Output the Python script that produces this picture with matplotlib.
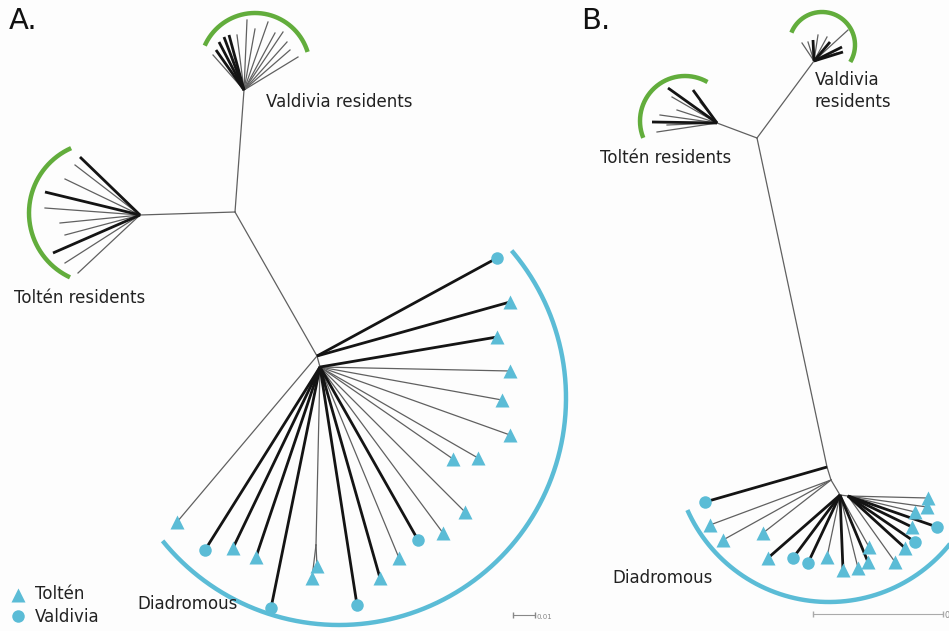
import numpy as np
import matplotlib.pyplot as plt

# Node positions on the drawing plane (x to the right, y downwards)
# ---- Panel A ----
a_root = (235, 212)
a_val_hub = (244, 90)
a_tol_hub = (140, 215)
a_dia_hub1 = (317, 356)
a_dia_hub2 = (320, 367)
a_dia_pair_node = (316, 545)

a_val_tips = [(213, 55), (216, 50), (219, 42), (224, 37), (229, 35), (237, 35), (247, 20),
              (255, 29), (268, 22), (275, 33), (283, 32), (287, 42), (290, 50), (298, 57)]
a_val_thick = [0, 1, 1, 1, 1, 0, 0, 0, 0, 0, 0, 0, 0, 0]

a_tol_tips = [(80, 157), (75, 165), (65, 179), (45, 192), (45, 208),
              (60, 223), (65, 235), (53, 253), (65, 263), (78, 273)]
a_tol_thick = [1, 0, 0, 1, 0, 0, 0, 1, 0, 0]

# diadromous tips: x, y, river (T = Toltén, V = Valdivia), thick, parent node
a_dia_x = [497, 510, 497, 510, 502, 510, 478, 453, 465, 443, 418, 399, 380, 357, 271, 256, 233, 205, 177]
a_dia_y = [258, 302, 337, 371, 400, 435, 458, 459, 512, 533, 540, 558, 578, 605, 608, 557, 548, 550, 522]
a_dia_river = ['V', 'T', 'T', 'T', 'T', 'T', 'T', 'T', 'T', 'T', 'V', 'T', 'T', 'V', 'V', 'T', 'T', 'V', 'T']
a_dia_thick = [1, 1, 1, 0, 0, 0, 0, 0, 0, 0, 1, 0, 1, 1, 1, 1, 1, 1, 0]
a_dia_parent = [1, 1, 2, 2, 2, 2, 2, 2, 2, 2, 2, 2, 2, 2, 2, 2, 2, 2, 1]
a_pair_x = [317, 312]
a_pair_y = [566, 578]

# ---- Panel B ----
b_root = (757, 138)
b_tol_hub = (717, 123)
b_val_hub = (814, 61)
b_dia_n1 = (827, 467)
b_dia_n2 = (831, 480)
b_dia_hub = (840, 495)
b_dia_hub_r = (848, 496)

b_tol_tips = [(668, 88), (672, 97), (693, 90), (700, 102), (677, 110),
              (660, 115), (652, 122), (667, 125), (657, 132)]
b_tol_thick = [1, 0, 1, 0, 0, 0, 1, 0, 0]

b_val_tips = [(802, 43), (808, 42), (813, 40), (818, 35), (827, 37),
              (830, 42), (842, 47), (843, 52), (837, 53), (848, 30)]
b_val_thick = [0, 0, 1, 0, 0, 1, 1, 1, 0, 0]

b_dia_x = [705, 710, 723, 763, 768, 793, 808, 827, 843, 858, 868, 869, 895, 905, 915, 912, 937, 915, 927, 928]
b_dia_y = [502, 525, 540, 533, 558, 558, 563, 557, 570, 568, 562, 547, 562, 548, 542, 527, 527, 512, 507, 498]
b_dia_river = ['V', 'T', 'T', 'T', 'T', 'V', 'V', 'T', 'T', 'T', 'T', 'T', 'T', 'T', 'V', 'T', 'V', 'T', 'T', 'T']
b_dia_thick = [1, 0, 0, 0, 1, 1, 1, 0, 1, 0, 1, 0, 0, 1, 1, 1, 1, 0, 0, 0]
b_dia_parent = [1, 2, 2, 2, 3, 3, 3, 3, 3, 3, 3, 3, 4, 4, 4, 4, 4, 4, 4, 4]

# clade arcs: centre x, centre y, radius, start angle, end angle (degrees)
green_arcs = [(255, 68, 55, 17, 156), (100, 213, 71, 114, 245),
              (685, 121, 45, 60, 202), (822, 45, 33, -31, 158)]
blue_arcs = [(339, 398, 227, 219, 400.5), (829, 447, 155, 204, 330)]

GREEN = '#62ad3c'
BLUE = '#5bbcd6'
THIN = '#606060'
THICK = '#141414'


def branch(ax, p, q, thick=False):
    if thick:
        ax.plot([p[0], q[0]], [p[1], q[1]], color=THICK, lw=2.0, solid_capstyle='butt', zorder=2)
    else:
        ax.plot([p[0], q[0]], [p[1], q[1]], color=THIN, lw=0.9, zorder=1)


def arc(ax, cx, cy, r, a0, a1, color):
    t = np.radians(np.linspace(a0, a1, 200))
    ax.plot(cx + r * np.cos(t), cy - r * np.sin(t), color=color, lw=3.2, solid_capstyle='butt', zorder=1)


def tip_marker(ax, x, y, river):
    if river == 'T':
        ax.plot(x, y, marker='^', ms=10, color=BLUE, mec='none', zorder=3)
    else:
        ax.plot(x, y, marker='o', ms=9, color=BLUE, mec='none', zorder=3)


fig = plt.figure(figsize=(9.49, 6.31), dpi=100)
fig.patch.set_facecolor('#fdfdfd')
ax = fig.add_axes([0, 0, 1, 1])
ax.set_xlim(0, 949)
ax.set_ylim(631, 0)
ax.axis('off')

# Panel A tree
branch(ax, a_root, a_val_hub)
branch(ax, a_root, a_tol_hub)
branch(ax, a_root, a_dia_hub1)
branch(ax, a_dia_hub1, a_dia_hub2)
for tip, th in zip(a_val_tips, a_val_thick):
    branch(ax, a_val_hub, tip, th)
for tip, th in zip(a_tol_tips, a_tol_thick):
    branch(ax, a_tol_hub, tip, th)
hubs_a = {1: a_dia_hub1, 2: a_dia_hub2}
for x, y, riv, th, par in zip(a_dia_x, a_dia_y, a_dia_river, a_dia_thick, a_dia_parent):
    branch(ax, hubs_a[par], (x, y), th)
    tip_marker(ax, x, y, riv)
branch(ax, a_dia_hub2, a_dia_pair_node)
for x, y in zip(a_pair_x, a_pair_y):
    branch(ax, a_dia_pair_node, (x, y))
    tip_marker(ax, x, y, 'T')

# Panel B tree
branch(ax, b_root, b_tol_hub)
branch(ax, b_root, b_val_hub)
branch(ax, b_root, b_dia_n1)
branch(ax, b_dia_n1, b_dia_n2)
branch(ax, b_dia_n2, b_dia_hub)
branch(ax, b_dia_hub, b_dia_hub_r)
for tip, th in zip(b_tol_tips, b_tol_thick):
    branch(ax, b_tol_hub, tip, th)
for tip, th in zip(b_val_tips, b_val_thick):
    branch(ax, b_val_hub, tip, th)
hubs_b = {1: b_dia_n1, 2: b_dia_n2, 3: b_dia_hub, 4: b_dia_hub_r}
for x, y, riv, th, par in zip(b_dia_x, b_dia_y, b_dia_river, b_dia_thick, b_dia_parent):
    branch(ax, hubs_b[par], (x, y), th)
    tip_marker(ax, x, y, riv)

for a in green_arcs:
    arc(ax, *a, GREEN)
for a in blue_arcs:
    arc(ax, *a, BLUE)

# labels
txt = dict(fontsize=12, color='#222222', va='center', ha='left')
ax.text(9, 21, 'A.', fontsize=21, color='#111111', va='center')
ax.text(581, 21, 'B.', fontsize=21, color='#111111', va='center')
ax.text(266, 102, 'Valdivia residents', **txt)
ax.text(14, 298, 'Toltén residents', **txt)
ax.text(137, 604, 'Diadromous', **txt)
ax.text(600, 158, 'Toltén residents', **txt)
ax.text(815, 91, 'Valdivia\nresidents', linespacing=1.25, **txt)
ax.text(612, 578, 'Diadromous', **txt)

# legend
tip_marker(ax, 18, 595, 'T')
tip_marker(ax, 18, 616, 'V')
ax.text(35, 594, 'Toltén', **txt)
ax.text(35, 617, 'Valdivia', **txt)

# scale bars
ax.plot([513, 535], [615, 615], color='#888888', lw=0.8, marker='|', ms=4)
ax.text(537, 617, '0.01', fontsize=5, color='#888888', va='center')
ax.plot([813, 943], [614, 614], color='#aaaaaa', lw=0.8, marker='|', ms=4)
ax.text(945, 616, '0', fontsize=6, color='#888888', va='center')

fig.savefig('out.png', dpi=100, facecolor=fig.get_facecolor())
